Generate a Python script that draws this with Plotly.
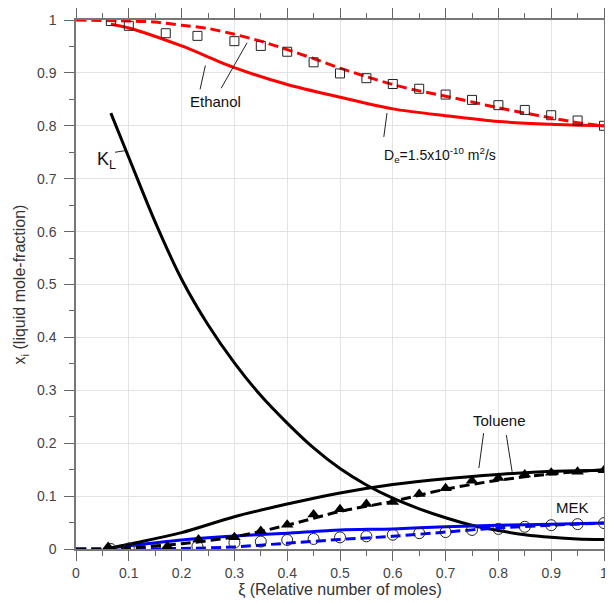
import plotly.graph_objects as go

# ---------------- data ----------------
# Ethanol
eth_exp_x = [0.066, 0.1, 0.17, 0.23, 0.3, 0.35, 0.4, 0.45, 0.5, 0.55, 0.6, 0.65, 0.7, 0.75, 0.8, 0.85, 0.9, 0.95, 1.0]
eth_exp_y = [0.998, 0.989, 0.975, 0.970, 0.960, 0.951, 0.940, 0.920, 0.899, 0.890, 0.879, 0.870, 0.859, 0.849, 0.839, 0.830, 0.820, 0.810, 0.800]
eth_dash_x = [0.0, 0.1, 0.15, 0.2, 0.25, 0.3, 0.35, 0.4, 0.45, 0.5, 0.55, 0.6, 0.65, 0.7, 0.75, 0.8, 0.85, 0.9, 0.95, 1.0]
eth_dash_y = [1.0, 0.998, 0.996, 0.990, 0.984, 0.973, 0.960, 0.944, 0.927, 0.909, 0.893, 0.878, 0.866, 0.856, 0.845, 0.834, 0.824, 0.815, 0.806, 0.800]
eth_solid_x = [0.066, 0.1, 0.2, 0.3, 0.4, 0.5, 0.6, 0.7, 0.8, 0.9, 1.0]
eth_solid_y = [0.992, 0.985, 0.951, 0.910, 0.878, 0.854, 0.832, 0.819, 0.808, 0.803, 0.800]

# K_L
kl_x = [0.066, 0.1, 0.15, 0.2, 0.25, 0.3, 0.35, 0.4, 0.45, 0.5, 0.55, 0.6, 0.65, 0.7, 0.75, 0.8, 0.85, 0.9, 0.95, 1.0]
kl_y = [0.824, 0.740, 0.618, 0.510, 0.424, 0.352, 0.290, 0.238, 0.191, 0.152, 0.121, 0.096, 0.076, 0.059, 0.045, 0.035, 0.027, 0.022, 0.019, 0.018]

# Toluene
tol_exp_x = [0.061, 0.173, 0.232, 0.30, 0.35, 0.40, 0.45, 0.50, 0.55, 0.60, 0.65, 0.70, 0.75, 0.80, 0.85, 0.90, 0.95, 1.0]
tol_exp_y = [0.004, 0.005, 0.018, 0.022, 0.034, 0.046, 0.065, 0.075, 0.085, 0.089, 0.104, 0.115, 0.129, 0.134, 0.141, 0.144, 0.146, 0.149]
tol_dash_x = [0.0, 0.06, 0.1, 0.2, 0.3, 0.4, 0.5, 0.6, 0.7, 0.8, 0.9, 1.0]
tol_dash_y = [0.0, 0.0, 0.002, 0.010, 0.023, 0.045, 0.071, 0.090, 0.113, 0.130, 0.142, 0.150]
tol_solid_x = [0.066, 0.1, 0.2, 0.3, 0.4, 0.5, 0.6, 0.7, 0.8, 0.9, 1.0]
tol_solid_y = [0.002, 0.009, 0.031, 0.061, 0.085, 0.106, 0.122, 0.133, 0.141, 0.147, 0.149]

# MEK
mek_exp_x = [0.066, 0.1, 0.23, 0.3, 0.35, 0.4, 0.45, 0.5, 0.55, 0.6, 0.65, 0.7, 0.75, 0.8, 0.85, 0.9, 0.95, 1.0]
mek_exp_y = [0.0, 0.001, 0.005, 0.012, 0.014, 0.017, 0.019, 0.022, 0.024, 0.027, 0.030, 0.032, 0.036, 0.038, 0.042, 0.045, 0.047, 0.049]
mek_dash_x = [0.0, 0.1, 0.2, 0.3, 0.4, 0.5, 0.6, 0.7, 0.8, 0.9, 1.0]
mek_dash_y = [0.0, 0.0, 0.001, 0.004, 0.011, 0.018, 0.024, 0.032, 0.040, 0.045, 0.049]
mek_solid_x = [0.066, 0.1, 0.2, 0.3, 0.4, 0.5, 0.6, 0.7, 0.8, 0.9, 1.0]
mek_solid_y = [0.002, 0.006, 0.017, 0.0245, 0.030, 0.036, 0.038, 0.042, 0.045, 0.047, 0.049]

tick_vals = [0, 0.1, 0.2, 0.3, 0.4, 0.5, 0.6, 0.7, 0.8, 0.9, 1]
tick_text = ["0", "0.1", "0.2", "0.3", "0.4", "0.5", "0.6", "0.7", "0.8", "0.9", "1"]

RED = "#ff0000"
BLUE = "#0000ff"
BLACK = "#000000"
LW = 3
FAM = "Liberation Sans, Arial, sans-serif"

fig = go.Figure()

def line(x, y, color, dash="solid"):
    fig.add_trace(go.Scatter(x=x, y=y, mode="lines",
                             line=dict(color=color, width=LW, dash=dash, shape="spline", smoothing=0.8),
                             hoverinfo="skip"))

dash_pat = "10px,5px"
# Ethanol
line(eth_dash_x, eth_dash_y, RED, dash_pat)
line(eth_solid_x, eth_solid_y, RED)
# K_L
line(kl_x, kl_y, BLACK)
# MEK
line(mek_dash_x, mek_dash_y, BLUE, dash_pat)
line(mek_solid_x, mek_solid_y, BLUE)
# Toluene
line(tol_dash_x, tol_dash_y, BLACK, dash_pat)
line(tol_solid_x, tol_solid_y, BLACK)

# experimental markers
fig.add_trace(go.Scatter(x=eth_exp_x, y=eth_exp_y, mode="markers",
                         marker=dict(symbol="square-open", size=9, color="#222222", line=dict(width=1))))
fig.add_trace(go.Scatter(x=mek_exp_x, y=mek_exp_y, mode="markers",
                         marker=dict(symbol="circle-open", size=11, color="#222222", line=dict(width=1))))
fig.add_trace(go.Scatter(x=tol_exp_x, y=tol_exp_y, mode="markers",
                         marker=dict(symbol="triangle-up", size=11, color="#000000")))

# annotations
font = dict(family=FAM, size=15, color="#111111")
fig.add_annotation(x=0.265, y=0.846, text="Ethanol", showarrow=False, font=font)
fig.add_annotation(x=0.69, y=0.745, text="D<sub>e</sub>=1.5x10<sup>-10</sup> m<sup>2</sup>/s",
                   showarrow=False, font=dict(family=FAM, size=14, color="#111111"))
fig.add_annotation(x=0.058, y=0.735, text="K<sub>L</sub>", showarrow=False,
                   font=dict(family=FAM, size=18, color="#111111"))
fig.add_annotation(x=0.803, y=0.2425, text="Toluene", showarrow=False, font=font)
fig.add_annotation(x=0.94, y=0.079, text="MEK", showarrow=False, font=font)

leaders = [
    (0.235, 0.869, 0.245, 0.914),
    (0.275, 0.871, 0.324, 0.957),
    (0.583, 0.779, 0.589, 0.824),
    (0.074, 0.750, 0.093, 0.753),
    (0.772, 0.219, 0.763, 0.153),
    (0.815, 0.2155, 0.826, 0.146),
]
for x0, y0, x1, y1 in leaders:
    fig.add_shape(type="line", x0=x0, y0=y0, x1=x1, y1=y1, xref="x", yref="y",
                  line=dict(color="#222222", width=1))

axis_common = dict(
    range=[0, 1], tickvals=tick_vals, ticktext=tick_text,
    ticks="outside", ticklen=10, tickwidth=1, tickcolor="#666666",
    showline=True, linecolor="#777777", linewidth=1.5, mirror="ticks",
    showgrid=True, gridcolor="#e3e3e3", gridwidth=1,
    zeroline=False, automargin=False,
    tickfont=dict(family=FAM, size=14, color="#444444"),
    minor=dict(dtick=0.05, tick0=0, ticks="outside", ticklen=5, tickcolor="#666666", showgrid=False),
)

fig.update_xaxes(**axis_common,
                 title=dict(text="ξ (Relative number of moles)", standoff=4,
                            font=dict(family=FAM, size=16, color="#333333")))
fig.update_yaxes(**axis_common, ticklabelstandoff=5,
                 title=dict(text="x<sub>i</sub> (liquid mole-fraction)", standoff=7,
                            font=dict(family=FAM, size=16, color="#333333")))

# page body has an 8px margin, so the figure is shrunk/shifted to line up
fig.update_layout(
    width=605, height=595,
    margin=dict(l=68, r=9, t=12, b=54),
    paper_bgcolor="white", plot_bgcolor="white",
    showlegend=False,
)

fig.write_html("out.html")
